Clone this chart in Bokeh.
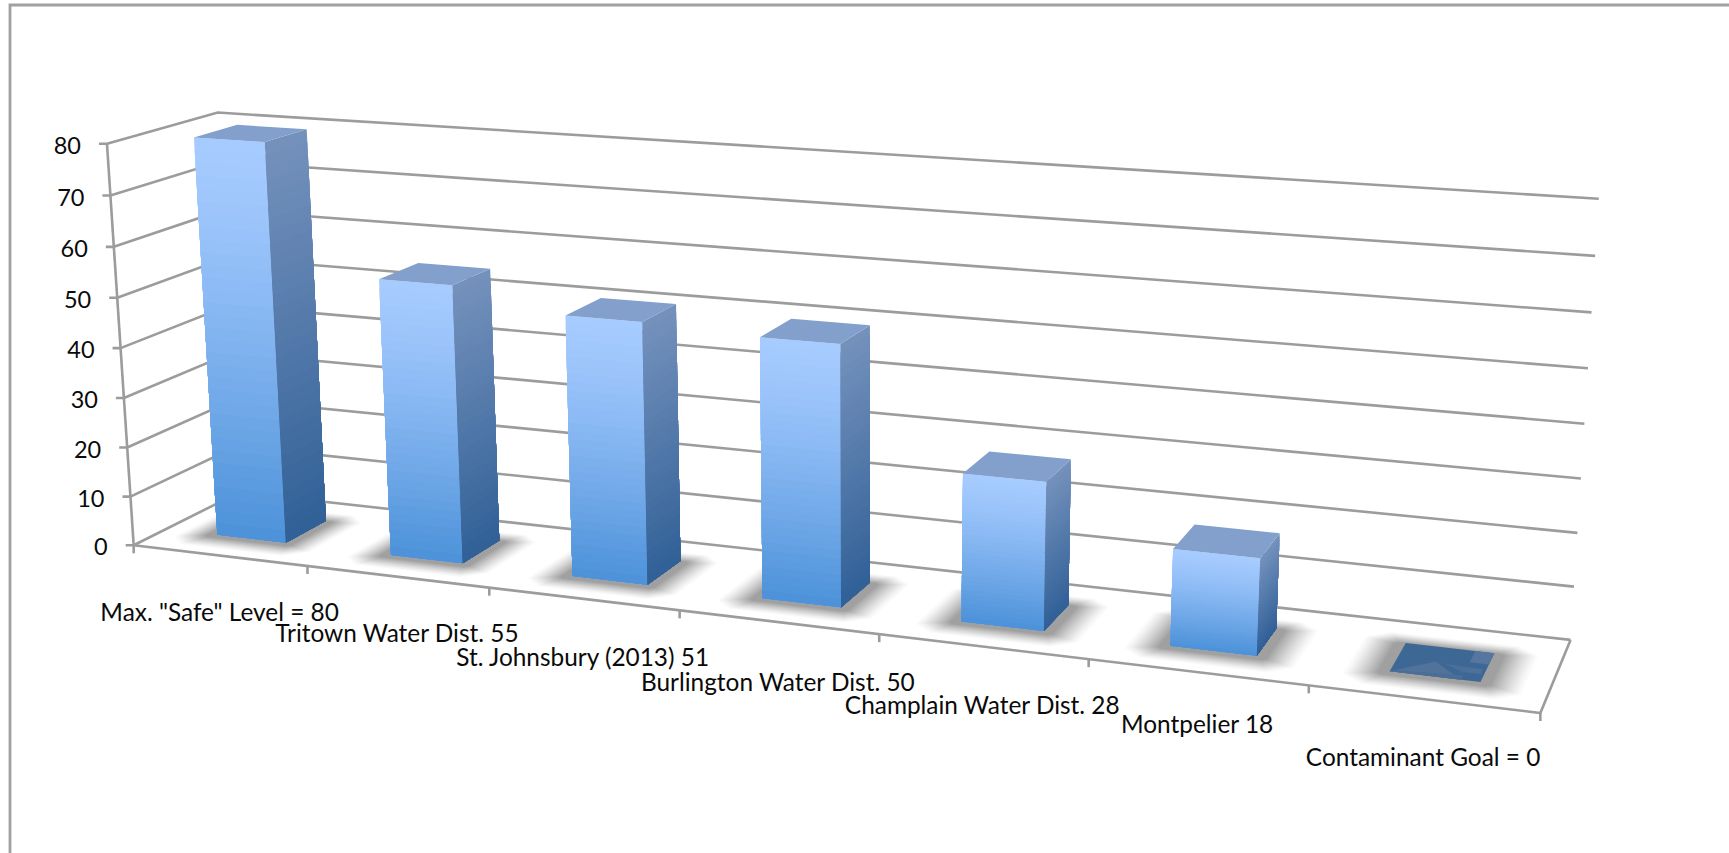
import numpy as np
from bokeh.plotting import figure
from bokeh.embed import file_html
from bokeh.resources import INLINE
from bokeh.core.properties import value

# ---- data -------------------------------------------------------------
categories = ['Max. "Safe" Level = 80', "Tritown Water Dist. 55", "St. Johnsbury (2013) 51",
              "Burlington Water Dist. 50", "Champlain Water Dist. 28", "Montpelier 18",
              "Contaminant Goal = 0"]
values = [80, 55, 51, 50, 28, 18, 0]
y_ticks = [0, 10, 20, 30, 40, 50, 60, 70, 80]

# ---- style ------------------------------------------------------------
W, H = 1729, 853
GRID = "#9c9c9c"
FONT = "Lato"
FS_CAT = "24.4px"
FS_TICK = "23.5px"
TXT = "#0a0a0a"
FRONT_TOP, FRONT_BOT = (166, 203, 255), (74, 144, 216)
SIDE_TOP, SIDE_BOT = (116, 145, 188), (47, 95, 150)
TOP_FACE = "#82a0cb"
label_drop = [56, 56, 58, 59, 58, 51, 58]

# ---- 3-D projection: (category u, value v, depth w) -> screen ----------
n = len(categories)
vmax = y_ticks[-1]
calib = [((0, 0, 0), (132.7, 543.7)), ((0, vmax, 0), (106.7, 143.3)), ((0, vmax, 1), (217, 112)),
         ((0, 0, 1), (239, 492)), ((n, 0, 1), (1570, 639.3)), ((n, vmax, 1), (1598.3, 198.3)),
         ((n, 0, 0), (1540, 711.7)), ((1, 0, 0), (307.3, 566.7)), ((2, 0, 0), (489, 587.2)),
         ((3, 0, 0), (679.3, 609.3)), ((4, 0, 0), (878, 633.3)), ((5, 0, 0), (1088.3, 660)),
         ((6, 0, 0), (1308.3, 685))]
A, b = [], []
for (u, v, w), (x, y) in calib:
    q = [u, v / 10, w, 1]
    A.append(q + [0, 0, 0, 0] + [-x * c for c in q[:3]]); b.append(x)
    A.append([0, 0, 0, 0] + q + [-y * c for c in q[:3]]); b.append(y)
m = np.linalg.lstsq(np.array(A, float), np.array(b, float), rcond=None)[0]


def P(u, v, w):
    q = np.array([u, v / 10, w, 1.0])
    d = m[8] * q[0] + m[9] * q[1] + m[10] * q[2] + 1
    return float(m[:4] @ q / d), float(m[4:8] @ q / d)


def mix(a, b, t):
    return "#%02x%02x%02x" % tuple(int(round(a[i] + (b[i] - a[i]) * t)) for i in range(3))


p = figure(width=W, height=H, x_range=(0, W), y_range=(H, 0), output_backend="svg",
           toolbar_location=None, min_border=0, outline_line_color=None,
           background_fill_color="white", border_fill_color="white")
p.axis.visible = False
p.grid.visible = False
p.styles = {"position": "absolute", "left": "0", "top": "0"}


def seg(pts, width=2.6, color=GRID):
    p.line([a[0] for a in pts], [a[1] for a in pts], line_color=color, line_width=width,
           line_join="miter")


def quad(pts, color):
    p.patch([a[0] for a in pts], [a[1] for a in pts], fill_color=color, line_color=None)


# frame
seg([(W, 4.5), (9.5, 4.5), (9.5, H)], width=2.8, color="#a0a0a0")

# walls and floor
for t in y_ticks:
    seg([P(0, t, 0), P(0, t, 1), P(n, t, 1)])
    a = P(0, t, 0)
    seg([(a[0] - 8, a[1]), a])
seg([P(0, 0, 0), P(0, vmax, 0)])
seg([P(0, 0, 0), P(n, 0, 0), P(n, 0, 1)])
for i in range(n + 1):
    a = P(i, 0, 0)
    seg([a, (a[0], a[1] + 8)])

# bars
U0, U1, W0, W1 = 0.3, 0.7, 0.3, 0.7
LAYERS = 18
for i, val in enumerate(values):
    u0, u1 = i + U0, i + U1
    # soft floor shadow: nested quads, lighter toward the outer rim
    for k in range(LAYERS):
        t = k / (LAYERS - 1)
        eu = 0.19 * (1 - t) + 0.05 * t
        e_front = 0.2 * (1 - t) + 0.05 * t
        e_back = 0.13 * (1 - t) + 0.0 * t
        col = mix((251, 251, 251), (160, 160, 160), t ** 1.2)
        cut = 0.08 * (1 - t) + 0.02
        a0, a1, c0, c1 = u0 - eu, u1 + eu, W0 - e_front, W1 + e_back
        quad([P(a0 + cut, 0, c0), P(a1 - cut, 0, c0), P(a1, 0, c0 + cut), P(a1, 0, c1 - cut),
              P(a1 - cut, 0, c1), P(a0 + cut, 0, c1), P(a0, 0, c1 - cut), P(a0, 0, c0 + cut)], col)
    if val == 0:
        um = u1 - 0.085
        quad([P(u0, 0, W0), P(u1, 0, W0), P(u1, 0, W1), P(u0, 0, W1)], "#3d6895")
        quad([P(u0, 0, W0), P(u0 + 0.17, 0, W0 + 0.2), P(um, 0, W0)], "#527399")
        quad([P(u0, 0, W0), P(um, 0, W0), P(um, 0, W0 + 0.06), P(u0, 0, W0 + 0.02)], "#4a6e98")
        quad([P(u0 + 0.08, 0, W0 + 0.2), P(um, 0, W0 + 0.17), P(um, 0, W0 + 0.09), P(u0 + 0.2, 0, W0 + 0.19)], "#4a6f9a")
        quad([P(um, 0, W0 + 0.24), P(u1, 0, W0 + 0.24), P(u1, 0, W1), P(um, 0, W1)], "#55779f")
        quad([P(um, 0, W0 + 0.1), P(u1 - 0.012, 0, W0 + 0.1), P(u1 - 0.02, 0, W0 + 0.17), P(um, 0, W0 + 0.17)], "#4d7199")
        continue
    strips = 32
    for k in range(strips):
        t = k / strips
        v = val * (1 - t)
        quad([P(u0, v, W0), P(u1, v, W0), P(u1, 0, W0), P(u0, 0, W0)], mix(FRONT_TOP, FRONT_BOT, t ** 1.25))
        quad([P(u1, v, W0), P(u1, v, W1), P(u1, 0, W1), P(u1, 0, W0)], mix(SIDE_TOP, SIDE_BOT, t))
    quad([P(u0, val, W0), P(u1, val, W0), P(u1, val, W1), P(u0, val, W1)], TOP_FACE)

# labels
for t in y_ticks:
    a = P(0, t, 0)
    p.text([a[0] - 26], [a[1] + 1.5], text=[str(t)], text_align="right", text_baseline="middle",
           text_font=value(FONT), text_font_size=FS_TICK, text_color=TXT)
for i, name in enumerate(categories):
    a = P(i + 0.5, 0, 0)
    p.text([a[0]], [a[1] + label_drop[i]], text=[name], text_align="center", text_baseline="middle",
           text_font=value(FONT), text_font_size=FS_CAT, text_color=TXT)

open("out.html", "w").write(file_html(p, INLINE))
